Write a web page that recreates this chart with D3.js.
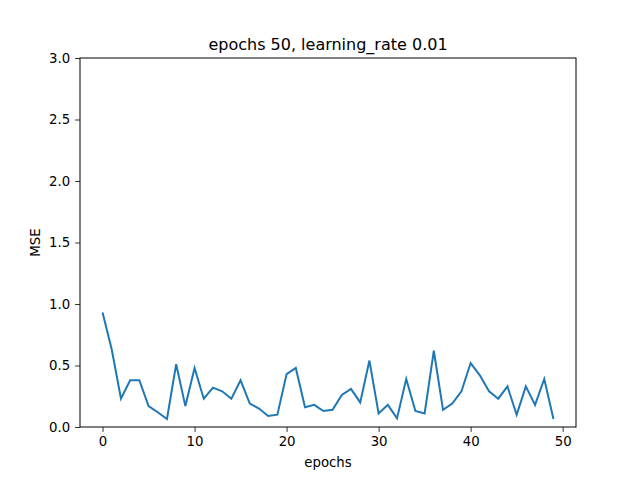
<!DOCTYPE html>
<html><head><meta charset="utf-8">
<script src="https://cdn.jsdelivr.net/npm/d3@7"></script>
<style>body{margin:0;background:#fff}text{font-family:"DejaVu Sans",sans-serif}</style>
</head><body>
<svg id="c" width="640" height="480"></svg>
<script>
const mse=[0.93,0.63,0.23,0.38,0.38,0.17,0.12,0.065,0.51,0.17,0.48,0.23,0.32,0.29,0.23,0.38,0.19,0.15,0.09,0.1,0.43,0.48,0.16,0.18,0.13,0.14,0.26,0.31,0.2,0.54,0.11,0.18,0.07,0.39,0.13,0.11,0.62,0.14,0.19,0.29,0.52,0.42,0.29,0.23,0.33,0.1,0.33,0.18,0.39,0.065];
const xTicks=[0,10,20,30,40,50];
const yTicks=[0,0.5,1,1.5,2,2.5,3];
const title="epochs 50, learning_rate 0.01";
const L=80,R=576,T=58,B=427;
const svg=d3.select("#c");
const x=d3.scaleLinear().domain([-2.45,51.45]).range([L,R]);
const y=d3.scaleLinear().domain([0,3]).range([B,T]);
const xa=svg.append("g").attr("transform",`translate(0,${B})`).call(d3.axisBottom(x).tickValues(xTicks).tickFormat(d3.format("d")).tickSize(4.9).tickPadding(4.9));
const ya=svg.append("g").attr("transform",`translate(${L},0)`).call(d3.axisLeft(y).tickValues(yTicks).tickFormat(d3.format(".1f")).tickSize(4.9).tickPadding(4.9));
[xa,ya].forEach(a=>{a.selectAll("text").attr("font-size",13.3).attr("fill","#000").attr("font-family","DejaVu Sans");a.select(".domain").remove();a.selectAll("line").attr("stroke","#000").attr("stroke-width",0.8);});
svg.append("path").datum(mse).attr("fill","none").attr("stroke","#1f77b4").attr("stroke-width",2)
 .attr("d",d3.line().x((d,i)=>x(i)).y(d=>y(d)));
svg.append("rect").attr("x",L).attr("y",T).attr("width",R-L).attr("height",B-T).attr("fill","none").attr("stroke","#000").attr("stroke-width",1);
svg.append("text").attr("x",(L+R)/2).attr("y",T-8).attr("text-anchor","middle").attr("font-size",16).text(title);
svg.append("text").attr("x",(L+R)/2).attr("y",467).attr("text-anchor","middle").attr("font-size",13.3).text("epochs");
svg.append("text").attr("transform",`translate(40,${(T+B)/2}) rotate(-90)`).attr("text-anchor","middle").attr("font-size",13.3).text("MSE");
</script>
</body></html>
